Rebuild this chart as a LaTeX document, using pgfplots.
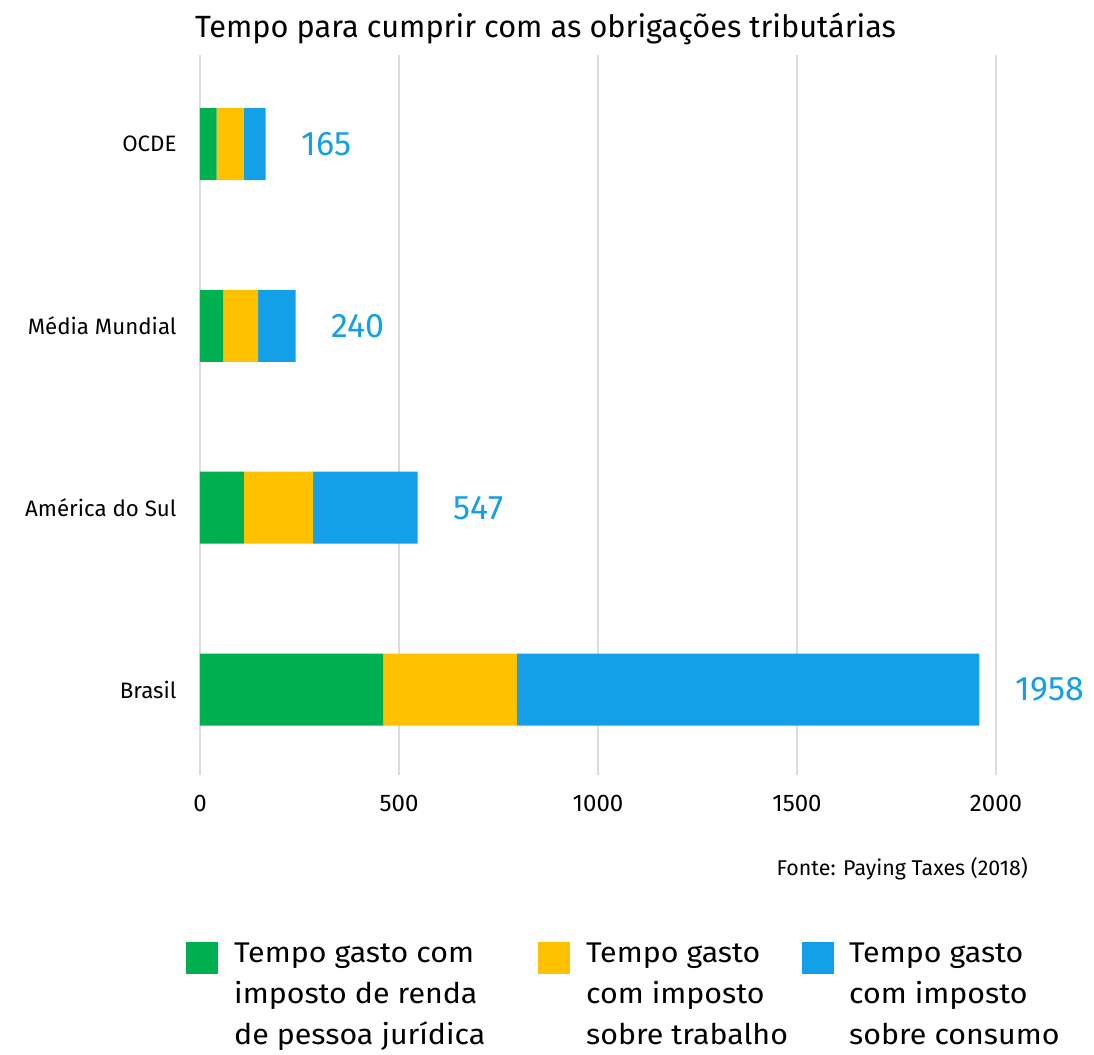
\documentclass[border=0pt]{standalone}
\usepackage{fontspec}
\setmainfont{Fira Sans}
\newfontfamily\wfont{Fira Sans}[FakeStretch=1.065]
\usepackage{pgfplots}
\pgfplotsset{compat=1.18}
\definecolor{cgreen}{HTML}{00AF50}
\definecolor{cyellow}{HTML}{FFC000}
\definecolor{cblue}{HTML}{149FE9}
\definecolor{cgrid}{HTML}{DCDCDC}
\pgfplotsset{
  common/.style={
    at={(0,0)}, anchor=south west,
    scale only axis, width=796pt, height=720pt,
    xmin=0, xmax=2000, ymin=-0.47, ymax=3.49,
    clip=false,
  }
}
\begin{document}
\begin{tikzpicture}[x=1pt,y=1pt]
\path[use as bounding box] (-200,-279) rectangle (894,775);
\begin{axis}[
  common,
  xbar stacked, bar width=0.396,
  ytick={0,1,2,3},
  yticklabels={Brasil, América do Sul, Média Mundial, OCDE},
  xtick={0,500,1000,1500,2000},
  xmajorgrids, grid style={cgrid, line width=1.6pt},
  axis line style={draw=none}, major tick length=0pt,
  yticklabel style={font=\fontsize{22.3}{26}\selectfont, xshift=-20pt},
  xticklabel style={font=\fontsize{24}{28}\selectfont, yshift=-17pt},
  /pgf/number format/assume math mode=true,
  /pgf/number format/1000 sep={},
]
\addplot[fill=cgreen, draw=none] coordinates {(460,0) (110,1) (58,2) (42,3)};
\addplot[fill=cyellow, draw=none] coordinates {(336,0) (174,1) (88,2) (68,3)};
\addplot[fill=cblue, draw=none] coordinates {(1162,0) (263,1) (94,2) (55,3)};
\end{axis}
\begin{axis}[
  common, hide axis,
  /pgf/number format/assume math mode=true,
  /pgf/number format/1000 sep={},
]
\addplot[only marks, mark=none, nodes near coords, point meta=x,
  nodes near coords style={anchor=west, font=\fontsize{34}{40}\selectfont, text=cblue, fill=white, inner xsep=13pt, inner ysep=12pt, xshift=23pt}]
  coordinates {(1958,0) (547,1) (240,2) (165,3)};
\end{axis}
\node[anchor=north west, inner sep=0pt, font=\fontsize{30.7}{36}\selectfont] at (-5,762) {Tempo para cumprir com as obrigações tributárias};
\node[anchor=east, inner sep=0pt, font=\fontsize{21.4}{25}\selectfont] at (828,-94) {Fonte: Paying Taxes (2018)};
\fill[cgreen] (-14,-167) rectangle (18,-199);
\fill[cyellow] (338,-167) rectangle (370,-199);
\fill[cblue] (602,-167) rectangle (634,-199);
\node[anchor=north west, inner sep=0pt, align=left, font=\wfont\fontsize{28.5}{41}\selectfont] at (34,-168) {Tempo gasto com\\imposto de renda\\de pessoa jurídica};
\node[anchor=north west, inner sep=0pt, align=left, font=\wfont\fontsize{28.5}{41}\selectfont] at (386,-168) {Tempo gasto\\com imposto\\sobre trabalho};
\node[anchor=north west, inner sep=0pt, align=left, font=\wfont\fontsize{28.5}{41}\selectfont] at (649,-168) {Tempo gasto\\com imposto\\sobre consumo};
\end{tikzpicture}
\end{document}
